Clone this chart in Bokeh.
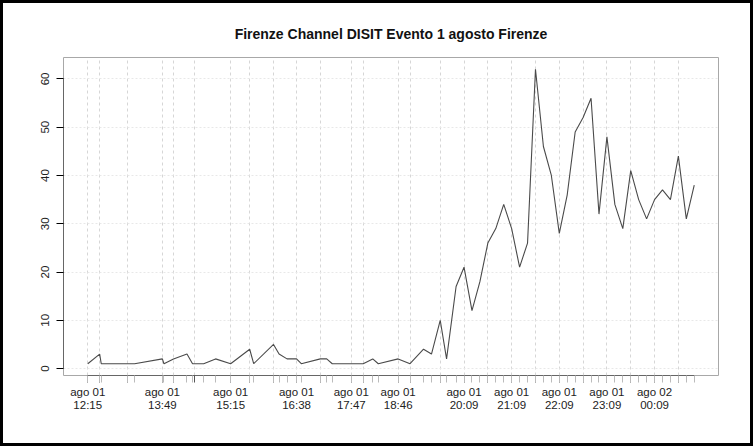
import pandas as pd
from bokeh.plotting import figure
from bokeh.layouts import column
from bokeh.models import FixedTicker, Range1d
from bokeh.embed import file_html
from bokeh.resources import INLINE

# observation timestamps (ago 01 -> ago 02) and counts
obs_times = [
    "2014-08-01 12:15", "2014-08-01 12:30", "2014-08-01 12:32", "2014-08-01 13:05",
    "2014-08-01 13:14", "2014-08-01 13:49", "2014-08-01 13:51", "2014-08-01 14:03",
    "2014-08-01 14:20", "2014-08-01 14:27", "2014-08-01 14:41", "2014-08-01 14:56",
    "2014-08-01 15:15", "2014-08-01 15:39", "2014-08-01 15:44", "2014-08-01 16:09",
    "2014-08-01 16:16", "2014-08-01 16:26", "2014-08-01 16:38", "2014-08-01 16:44",
    "2014-08-01 17:08", "2014-08-01 17:16", "2014-08-01 17:23", "2014-08-01 17:47",
    "2014-08-01 18:02", "2014-08-01 18:14", "2014-08-01 18:21", "2014-08-01 18:46",
    "2014-08-01 19:01", "2014-08-01 19:18", "2014-08-01 19:28", "2014-08-01 19:39",
    "2014-08-01 19:47", "2014-08-01 19:59", "2014-08-01 20:09", "2014-08-01 20:19",
    "2014-08-01 20:29", "2014-08-01 20:39", "2014-08-01 20:49", "2014-08-01 20:59",
    "2014-08-01 21:09", "2014-08-01 21:19", "2014-08-01 21:29", "2014-08-01 21:39",
    "2014-08-01 21:49", "2014-08-01 21:59", "2014-08-01 22:09", "2014-08-01 22:19",
    "2014-08-01 22:29", "2014-08-01 22:39", "2014-08-01 22:49", "2014-08-01 22:59",
    "2014-08-01 23:09", "2014-08-01 23:19", "2014-08-01 23:29", "2014-08-01 23:39",
    "2014-08-01 23:49", "2014-08-01 23:59", "2014-08-02 00:09", "2014-08-02 00:19",
    "2014-08-02 00:29", "2014-08-02 00:39", "2014-08-02 00:49", "2014-08-02 00:59",
]
counts = [
    1, 3, 1, 1,
    1, 2, 1, 2,
    3, 1, 1, 2,
    1, 4, 1, 5,
    3, 2, 2, 1,
    2, 2, 1, 1,
    1, 2, 1, 2,
    1, 4, 3, 10,
    2, 17, 21, 12,
    18, 26, 29, 34,
    29, 21, 26, 62,
    46, 40, 28, 36,
    49, 52, 56, 32,
    48, 34, 29, 41,
    35, 31, 35, 37,
    35, 44, 31, 38,
]

# major tick (grid) positions and the ones that carry a label
major_times = [
    "2014-08-01 12:15", "2014-08-01 12:30", "2014-08-01 13:05", "2014-08-01 13:49",
    "2014-08-01 14:03", "2014-08-01 14:30", "2014-08-01 15:15", "2014-08-01 15:39",
    "2014-08-01 16:09", "2014-08-01 16:38", "2014-08-01 17:08", "2014-08-01 17:47",
    "2014-08-01 18:02", "2014-08-01 18:46", "2014-08-01 19:01", "2014-08-01 19:39",
    "2014-08-01 20:09", "2014-08-01 20:39", "2014-08-01 21:09", "2014-08-01 21:39",
    "2014-08-01 22:09", "2014-08-01 22:39", "2014-08-01 23:09", "2014-08-01 23:39",
    "2014-08-02 00:09", "2014-08-02 00:39",
]
labeled_times = [
    "2014-08-01 12:15", "2014-08-01 13:49", "2014-08-01 15:15", "2014-08-01 16:38",
    "2014-08-01 17:47", "2014-08-01 18:46", "2014-08-01 20:09", "2014-08-01 21:09",
    "2014-08-01 22:09", "2014-08-01 23:09", "2014-08-02 00:09",
]
y_ticks = [0, 10, 20, 30, 40, 50, 60]
title_text = "Firenze Channel DISIT Evento 1 agosto Firenze"


def ms(s):
    return float(pd.Timestamp(s).value // 10**6)


xs = [ms(t) for t in obs_times]
major_ms = [ms(t) for t in major_times]
labeled_set = set(labeled_times)


def lab(t):
    ts = pd.Timestamp(t)
    return "ago %02d\n%s" % (ts.day, ts.strftime("%H:%M"))


overrides = {m: (lab(t) if t in labeled_set else "") for m, t in zip(major_ms, major_times)}

xmin, xmax = min(xs), max(xs)
xpad = (xmax - xmin) * 0.04
ymin, ymax = min(counts), max(counts)
ypad = (ymax - ymin) * 0.04

W, H = 747, 440
p = figure(width=W, height=H, x_axis_type="datetime", output_backend="svg",
           toolbar_location=None,
           x_range=Range1d(xmin - xpad, xmax + xpad),
           y_range=Range1d(ymin - ypad, ymax + ypad),
           min_border_left=60, min_border_right=32, min_border_top=54,
           min_border_bottom=68)

p.title.text = title_text
p.title.align = "center"
p.title.vertical_align = "top"
p.title.text_font = "Liberation Sans"
p.title.text_font_size = "14px"
p.title.text_font_style = "bold"
p.title.text_color = "#111111"
p.title.standoff = 28

p.background_fill_color = "white"
p.border_fill_color = "white"
p.outline_line_color = "#a8a8a8"
p.outline_line_width = 1

p.line(xs, counts, line_color="#4a4a4a", line_width=1.1)

# x axis
xa = p.xaxis[0]
xa.ticker = FixedTicker(ticks=major_ms, minor_ticks=xs)
xa.major_label_overrides = overrides
xa.major_label_text_font = "Liberation Sans"
xa.major_label_text_font_size = "11.5px"
xa.major_label_text_color = "#222222"
xa.major_label_text_line_height = 1.1
xa.major_label_standoff = 3
xa.major_tick_out = 7
xa.major_tick_in = 0
xa.minor_tick_out = 7
xa.minor_tick_in = 0
xa.major_tick_line_color = "#555555"
xa.minor_tick_line_color = "#bbbbbb"
xa.axis_line_color = "#666666"
xa.bounds = (xmin, xmax)

# y axis
ya = p.yaxis[0]
ya.ticker = FixedTicker(ticks=y_ticks)
ya.major_label_orientation = "vertical"
ya.major_label_text_font = "Liberation Sans"
ya.major_label_text_font_size = "11.5px"
ya.major_label_text_color = "#222222"
ya.major_label_standoff = 7
ya.major_tick_out = 7
ya.major_tick_in = 0
ya.minor_tick_line_color = None
ya.axis_line_color = "#666666"
ya.bounds = (0, 60)

# grids
p.xgrid.ticker = FixedTicker(ticks=major_ms)
p.xgrid.grid_line_color = "#d6d6d6"
p.xgrid.grid_line_dash = "3 3"
p.xgrid.grid_line_width = 1
p.ygrid.ticker = FixedTicker(ticks=y_ticks)
p.ygrid.grid_line_color = "#e8e8e8"
p.ygrid.grid_line_dash = "2 2"
p.ygrid.grid_line_width = 1

layout = column(p, styles={"border": "3px solid black", "background-color": "white"})

open("out.html", "w").write(file_html(layout, INLINE))
